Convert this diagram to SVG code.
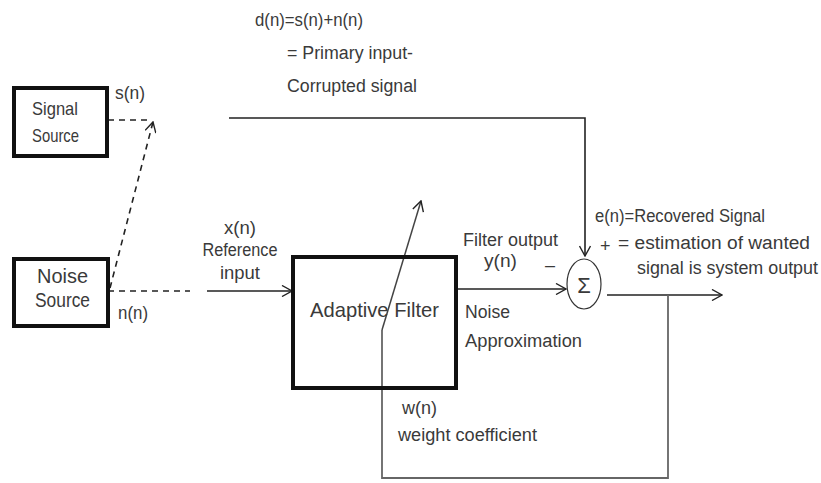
<svg xmlns="http://www.w3.org/2000/svg" width="821" height="483" viewBox="0 0 821 483">
<defs>
<marker id="arr" markerWidth="12" markerHeight="12" refX="11" refY="6" orient="auto" markerUnits="userSpaceOnUse">
<path d="M1,0.5 L11,6 L1,11.5" fill="none" stroke="#222" stroke-width="1.4"/>
</marker>
<style>
text{font-family:"Liberation Sans",Arial,sans-serif;fill:#3a3a3a;font-size:18px}
.box{fill:none;stroke:#111;stroke-width:4}
.ln{fill:none;stroke:#222;stroke-width:1.6}
.gl{fill:none;stroke:#666;stroke-width:1.8}
.dash{fill:none;stroke:#222;stroke-width:1.6;stroke-dasharray:6 5}
.mid{text-anchor:middle}
.s19{font-size:19px}
.s20{font-size:20px}
.s22{font-size:22px}
.s21{font-size:21px}
</style>
</defs>
<rect width="821" height="483" fill="#fff"/>

<g id="connectors">
<line class="dash" x1="108" y1="120" x2="150" y2="120"/>
<line class="dash" x1="110" y1="288" x2="153" y2="122" marker-end="url(#arr)"/>
<line class="dash" x1="108" y1="291" x2="190" y2="291"/>
<line class="ln" x1="207" y1="291" x2="292" y2="291" marker-end="url(#arr)"/>
<polyline class="ln" points="229,118 585,118 585,256" marker-end="url(#arr)"/>
<line class="ln" x1="457" y1="289" x2="566" y2="289" marker-end="url(#arr)"/>
<line class="ln" x1="607" y1="295" x2="722" y2="295" marker-end="url(#arr)"/>
<polyline class="gl" points="668,295 668,478 382,478 382,330"/>
<line x1="382" y1="330" x2="421" y2="201" stroke="#444" stroke-width="1.5" marker-end="url(#arr)"/>
</g>

<g id="signal-source">
<rect class="box" x="14" y="88" width="93" height="68"/>
<text x="32" y="115" class="s19" textLength="46" lengthAdjust="spacingAndGlyphs">Signal</text>
<text x="32" y="142" class="s19" textLength="47" lengthAdjust="spacingAndGlyphs">Source</text>
</g>

<g id="noise-source">
<rect class="box" x="14" y="259" width="94" height="67"/>
<text x="37" y="283" class="s20" textLength="51" lengthAdjust="spacingAndGlyphs">Noise</text>
<text x="35" y="307" class="s20" textLength="55" lengthAdjust="spacingAndGlyphs">Source</text>
</g>

<g id="adaptive-filter">
<rect class="box" x="293" y="257" width="163" height="131"/>
<text x="310" y="317" class="s21" textLength="129" lengthAdjust="spacingAndGlyphs">Adaptive Filter</text>
</g>

<g id="sum">
<ellipse cx="584" cy="284" rx="17" ry="25" fill="none" stroke="#333" stroke-width="1.2"/>
<text x="584" y="293" class="mid s22">Σ</text>
</g>

<g id="labels">
<text x="115" y="99" textLength="30" lengthAdjust="spacingAndGlyphs">s(n)</text>
<text x="118" y="319" textLength="30" lengthAdjust="spacingAndGlyphs">n(n)</text>
<text x="240" y="234" class="mid" textLength="32" lengthAdjust="spacingAndGlyphs">x(n)</text>
<text x="240" y="256" class="mid" textLength="75" lengthAdjust="spacingAndGlyphs">Reference</text>
<text x="240" y="279" class="mid" textLength="40" lengthAdjust="spacingAndGlyphs">input</text>
<text x="255" y="26" textLength="108" lengthAdjust="spacingAndGlyphs">d(n)=s(n)+n(n)</text>
<text x="287" y="59" textLength="126" lengthAdjust="spacingAndGlyphs">= Primary input-</text>
<text x="287" y="92" textLength="130" lengthAdjust="spacingAndGlyphs">Corrupted signal</text>
<text x="463" y="246" textLength="95" lengthAdjust="spacingAndGlyphs">Filter output</text>
<text x="484" y="267" textLength="33" lengthAdjust="spacingAndGlyphs">y(n)</text>
<text x="545" y="271">–</text>
<text x="600" y="252">+</text>
<text x="595" y="222" textLength="170" lengthAdjust="spacingAndGlyphs">e(n)=Recovered Signal</text>
<text x="618" y="249" textLength="192" lengthAdjust="spacingAndGlyphs">= estimation of wanted</text>
<text x="637" y="274" textLength="181" lengthAdjust="spacingAndGlyphs">signal is system output</text>
<text x="465" y="318" textLength="45" lengthAdjust="spacingAndGlyphs">Noise</text>
<text x="465" y="347" textLength="117" lengthAdjust="spacingAndGlyphs">Approximation</text>
<text x="402" y="414" textLength="35" lengthAdjust="spacingAndGlyphs">w(n)</text>
<text x="398" y="441" textLength="139" lengthAdjust="spacingAndGlyphs">weight coefficient</text>
</g>
</svg>
